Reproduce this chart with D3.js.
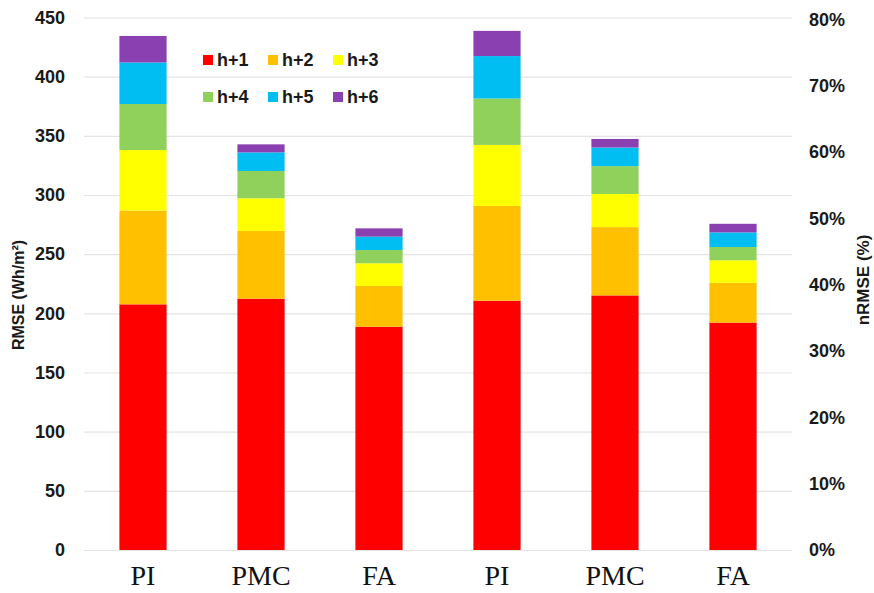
<!DOCTYPE html>
<html>
<head>
<meta charset="utf-8">
<script src="https://cdn.jsdelivr.net/npm/d3@7/dist/d3.min.js"></script>
<style>
  html, body { margin: 0; padding: 0; background: #fff; }
  svg { display: block; }
</style>
</head>
<body>
<svg id="chart" width="874" height="593"></svg>
<script>
// ---- data ----
const categories = ["PI", "PMC", "FA"];
const metrics = ["RMSE", "nRMSE"];
const seriesNames = ["h+1", "h+2", "h+3", "h+4", "h+5", "h+6"];
const seriesColors = ["#ff0000", "#ffc000", "#ffff00", "#8fd15a", "#00bdf2", "#8a40b0"];

// RMSE (Wh/m²), stacked h+1 .. h+6
const rmsePI  = [207.6, 79.2, 51.2, 38.9, 35.1, 22.4];
const rmsePMC = [212.4, 57.2, 27.6, 23.1, 15.7, 6.8];
const rmseFA  = [188.7, 34.4, 19.2, 11.2, 11.3, 7.0];
// nRMSE (%), stacked h+1 .. h+6
const nrmsePI  = [37.6, 14.3, 9.2, 7.0, 6.4, 3.8];
const nrmsePMC = [38.4, 10.3, 5.0, 4.2, 2.8, 1.3];
const nrmseFA  = [34.3, 6.0, 3.4, 2.0, 2.2, 1.3];

const leftTicks = [0, 50, 100, 150, 200, 250, 300, 350, 400, 450];
const rightTicks = [0, 10, 20, 30, 40, 50, 60, 70, 80];

// ---- build table ----
const groups = [
  { key: "PI|RMSE", label: "PI", metric: "RMSE", vals: rmsePI },
  { key: "PMC|RMSE", label: "PMC", metric: "RMSE", vals: rmsePMC },
  { key: "FA|RMSE", label: "FA", metric: "RMSE", vals: rmseFA },
  { key: "PI|nRMSE", label: "PI", metric: "nRMSE", vals: nrmsePI },
  { key: "PMC|nRMSE", label: "PMC", metric: "nRMSE", vals: nrmsePMC },
  { key: "FA|nRMSE", label: "FA", metric: "nRMSE", vals: nrmseFA }
];

const svg = d3.select("#chart");
const x = d3.scaleBand().domain(groups.map(g => g.key)).range([84, 792])
  .paddingInner(0.6).paddingOuter(0.3);
const yL = d3.scaleLinear().domain([0, 450]).range([550, 17.5]);
const yR = d3.scaleLinear().domain([0, 80]).range([550, 19.6]);

// gridlines
svg.append("g")
  .attr("transform", "translate(84,0)")
  .call(d3.axisLeft(yL).tickValues(leftTicks).tickSize(-708).tickFormat(""))
  .call(g => g.select(".domain").remove())
  .call(g => g.selectAll("line").attr("stroke", "#e4e4e4").attr("stroke-width", 1.2));

// left tick labels
svg.append("g")
  .attr("transform", "translate(65,0)")
  .call(d3.axisLeft(yL).tickValues(leftTicks).tickSize(0).tickPadding(0))
  .call(g => g.select(".domain").remove())
  .call(g => g.selectAll("text")
    .attr("font-family", "Liberation Sans, Arial, sans-serif")
    .attr("font-weight", "bold").attr("font-size", 18).attr("fill", "#1a1a1a"));

// right tick labels
svg.append("g")
  .attr("transform", "translate(809,0)")
  .call(d3.axisRight(yR).tickValues(rightTicks).tickSize(0).tickPadding(0).tickFormat(d => d + "%"))
  .call(g => g.select(".domain").remove())
  .call(g => g.selectAll("text")
    .attr("font-family", "Liberation Sans, Arial, sans-serif")
    .attr("font-weight", "bold").attr("font-size", 18).attr("fill", "#1a1a1a"));

// bars
groups.forEach(g => {
  const y = g.metric === "RMSE" ? yL : yR;
  let cum = 0;
  const segs = g.vals.map((v, i) => { const s = { y0: cum, y1: cum + v, i }; cum += v; return s; });
  svg.append("g").selectAll("rect").data(segs).join("rect")
    .attr("x", x(g.key))
    .attr("width", x.bandwidth())
    .attr("y", d => y(d.y1))
    .attr("height", d => y(d.y0) - y(d.y1))
    .attr("fill", d => seriesColors[d.i]);
});

// category labels
svg.append("g").selectAll("text").data(groups).join("text")
  .attr("x", d => x(d.key) + x.bandwidth() / 2)
  .attr("y", 585)
  .attr("text-anchor", "middle")
  .attr("font-family", "Liberation Serif, Times New Roman, serif")
  .attr("font-size", 28)
  .attr("fill", "#111")
  .text(d => d.label);

// axis titles
svg.append("text")
  .attr("transform", "translate(24,295) rotate(-90)")
  .attr("text-anchor", "middle")
  .attr("font-family", "Liberation Sans, Arial, sans-serif")
  .attr("font-weight", "bold").attr("font-size", 16).attr("fill", "#1a1a1a")
  .text("RMSE (Wh/m²)");
svg.append("text")
  .attr("transform", "translate(869,280) rotate(-90)")
  .attr("text-anchor", "middle")
  .attr("font-family", "Liberation Sans, Arial, sans-serif")
  .attr("font-weight", "bold").attr("font-size", 17).attr("fill", "#1a1a1a")
  .text("nRMSE (%)");

// legend
const legend = svg.append("g").selectAll("g").data(seriesNames).join("g")
  .attr("transform", (d, i) => `translate(${203 + (i % 3) * 65},${i < 3 ? 60 : 97})`);
legend.append("rect")
  .attr("x", 0).attr("y", -5).attr("width", 10).attr("height", 10)
  .attr("fill", (d, i) => seriesColors[i]);
legend.append("text")
  .attr("x", 14).attr("y", 0).attr("dy", "0.35em")
  .attr("font-family", "Liberation Sans, Arial, sans-serif")
  .attr("font-weight", "bold").attr("font-size", 18).attr("fill", "#1a1a1a")
  .text(d => d);
</script>
</body>
</html>
